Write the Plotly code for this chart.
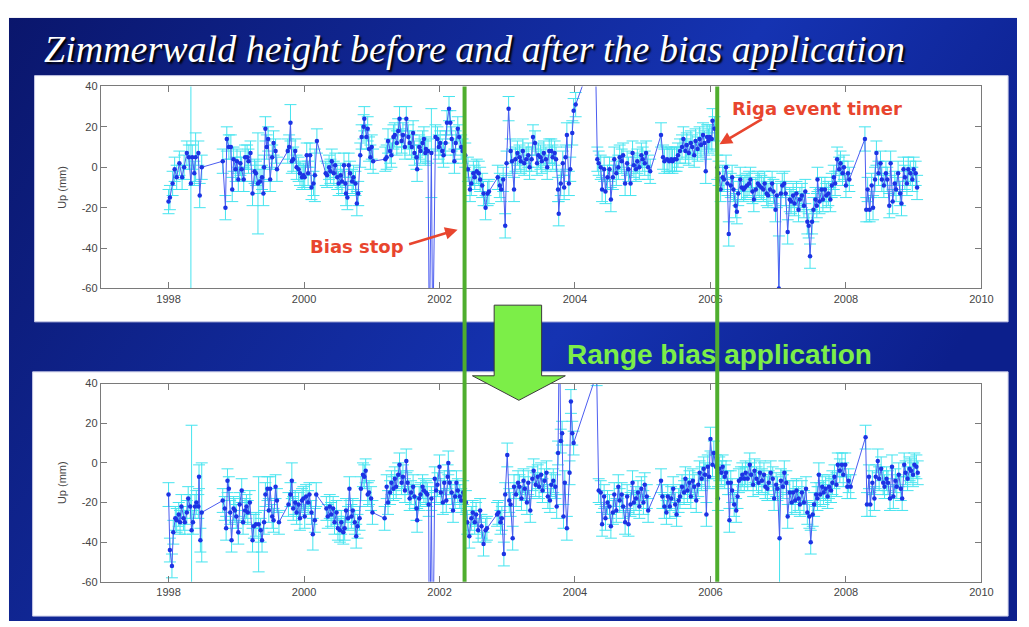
import base64
import plotly.graph_objects as go

W, H = 1029, 627

# ---- data: decimal year, Up (mm) ----
top_dates = [
    1998.00, 1998.02, 1998.06, 1998.09, 1998.12, 1998.16, 1998.20, 1998.23, 1998.27, 1998.30,
    1998.33, 1998.35, 1998.38, 1998.40, 1998.44, 1998.46, 1998.49,
    1998.80, 1998.84, 1998.86, 1998.89, 1998.92, 1998.94, 1998.96, 1998.99,
    1999.01, 1999.03, 1999.06, 1999.08, 1999.11, 1999.13, 1999.16, 1999.18, 1999.21, 1999.24,
    1999.27, 1999.29, 1999.32, 1999.35, 1999.38, 1999.40, 1999.41, 1999.43, 1999.45, 1999.47,
    1999.50, 1999.53, 1999.55, 1999.58, 1999.60,
    1999.76, 1999.78, 1999.80, 1999.82, 1999.84, 1999.87, 1999.89, 1999.92, 1999.94, 1999.97, 1999.99,
    2000.01, 2000.04, 2000.06, 2000.09, 2000.11, 2000.14, 2000.16, 2000.19,
    2000.32, 2000.34, 2000.37, 2000.39, 2000.41, 2000.44, 2000.46, 2000.49, 2000.51, 2000.54,
    2000.56, 2000.59, 2000.61, 2000.62, 2000.64, 2000.66, 2000.68, 2000.71, 2000.73, 2000.76,
    2000.78, 2000.80, 2000.83, 2000.85, 2000.88, 2000.89, 2000.92, 2000.94, 2000.96, 2000.98,
    2001.00, 2001.02,
    2001.20, 2001.22, 2001.24, 2001.27, 2001.29, 2001.32, 2001.34, 2001.37, 2001.39, 2001.41,
    2001.44, 2001.46, 2001.49, 2001.51, 2001.54, 2001.56, 2001.59, 2001.61, 2001.63, 2001.66,
    2001.67, 2001.70, 2001.72, 2001.75, 2001.77, 2001.79, 2001.80, 2001.83, 2001.85, 2001.88,
    2001.90, 2001.94, 2001.97, 2001.99,
    2002.01, 2002.04, 2002.06, 2002.09, 2002.11, 2002.14, 2002.16, 2002.18, 2002.20, 2002.22,
    2002.24, 2002.27, 2002.29, 2002.32, 2002.34, 2002.38,
    2002.42, 2002.45, 2002.47, 2002.50, 2002.52, 2002.55, 2002.58, 2002.60, 2002.63, 2002.65,
    2002.68, 2002.71, 2002.73,
    2002.86, 2002.89, 2002.91, 2002.94, 2002.97, 2002.99,
    2003.02, 2003.05, 2003.07, 2003.10, 2003.12, 2003.15, 2003.18, 2003.20, 2003.23, 2003.25,
    2003.28, 2003.31, 2003.33, 2003.36, 2003.38, 2003.41, 2003.44, 2003.46, 2003.49, 2003.51,
    2003.54, 2003.57, 2003.59, 2003.62, 2003.65, 2003.67, 2003.70, 2003.72, 2003.75, 2003.76,
    2003.79, 2003.82, 2003.84, 2003.86, 2003.88, 2003.91, 2003.93, 2003.96, 2003.98,
    2004.01, 2004.30,
    2004.33, 2004.35, 2004.38, 2004.40, 2004.43, 2004.45, 2004.48, 2004.51, 2004.53, 2004.56,
    2004.58, 2004.61, 2004.64, 2004.66, 2004.69, 2004.71, 2004.74, 2004.77, 2004.79, 2004.82,
    2004.85, 2004.87, 2004.90, 2004.92, 2004.95, 2004.98,
    2005.00, 2005.03, 2005.05, 2005.08, 2005.11,
    2005.27, 2005.30, 2005.32, 2005.36, 2005.39, 2005.42, 2005.44, 2005.47, 2005.50, 2005.52,
    2005.55, 2005.58, 2005.60, 2005.63, 2005.65, 2005.68, 2005.71, 2005.73, 2005.76, 2005.78,
    2005.81, 2005.84, 2005.86, 2005.89, 2005.91, 2005.93, 2005.95, 2005.97, 2005.99,
    2006.02, 2006.03, 2006.06,
    2006.10, 2006.12, 2006.15, 2006.18, 2006.20, 2006.23, 2006.25, 2006.27, 2006.30, 2006.32,
    2006.34, 2006.37, 2006.39, 2006.41, 2006.44, 2006.46, 2006.49, 2006.51, 2006.54, 2006.57,
    2006.59, 2006.62, 2006.64, 2006.67, 2006.70, 2006.72, 2006.75, 2006.78, 2006.80, 2006.83,
    2006.85, 2006.88, 2006.91, 2006.93, 2006.96, 2006.98,
    2007.01, 2007.04, 2007.06, 2007.09, 2007.11, 2007.14, 2007.17, 2007.19, 2007.22, 2007.24,
    2007.27, 2007.30, 2007.32, 2007.35, 2007.38, 2007.40, 2007.43, 2007.45, 2007.47, 2007.50,
    2007.52, 2007.55, 2007.57, 2007.58, 2007.61, 2007.64, 2007.66, 2007.69, 2007.71, 2007.74,
    2007.77, 2007.79, 2007.82, 2007.84, 2007.87, 2007.90, 2007.92, 2007.95, 2007.97,
    2008.00, 2008.03, 2008.05,
    2008.28, 2008.30, 2008.32, 2008.35, 2008.38, 2008.40, 2008.43, 2008.45, 2008.48, 2008.51,
    2008.53, 2008.56, 2008.59, 2008.61, 2008.64, 2008.66, 2008.69, 2008.72, 2008.74, 2008.77,
    2008.80, 2008.82, 2008.85, 2008.87, 2008.90, 2008.92, 2008.95, 2008.98,
    2009.00, 2009.03, 2009.05,
]
top_up = [
    -17, -15, -8, -1, -5, 2, -5, 0, 7, 5,
    -8, 5, -3, 5, 7, -14, 0,
    3, -20, 14, 10, 10, -11, 4, -1,
    3, -6, 2, -1, -6, 5, 5, 3, 7, -13,
    -2, -3, -8, -7, -5, -13, 0, 19, 10, 14,
    -6, 5, 12, 8, -1,
    8, 10, 22, 3, 4, 8, 0, -1, -3, -5, -4,
    -5, 6, -3, 6, -10, -8, -4, 13,
    -3, -4, 0, -2, 3, -3, 1, -5, -8, -4,
    -7, 1, -8, -13, -15, 1, -3, -7, -5, -8,
    -18, -13, 6, 15, 20, 24, 15, 19, 9, 5,
    10, 3,
    4, 5, 13, 8, 6, 15, 16, 12, 18, 24,
    13, 16, 10, 24, 15, 12, 10, 17, 7, 5,
    -1, 10, 8, 12, 14, 7, 9, 8, -90, 7,
    -90, 15, 14, 10,
    12, 8, 6, 12, 22, 29, 22, 14, 8, 3,
    12, 19, 15, 10, 8, 6,
    -1, -11, -8, -3, -5, -2, -3, -6, -9, -13,
    -20, -13, -12,
    -5, -9, -11, -6, -29, 2,
    29, 8, 3, -11, 4, 7, 5, 3, 8, 2,
    4, 6, 0, 4, 15, 12, 2, 6, 5, 3,
    7, 4, 0, 8, 8, 5, 7, 4, -11, -23,
    -8, 2, -10, 5, 16, -8, -1, 17, 28,
    31, 58,
    4, 2, 0, -11, -1, -12, -5, -1, -16, -5,
    4, -3, 0, 5, 3, 6, -8, 2, -1, -8,
    7, 1, -1, 3, 0, 6,
    4, 2, 7, 0, -2,
    16, 5, 3, 4, 3, 4, 3, 4, 4, 6,
    8, 10, 14, 8, 11, 7, 12, 10, 6, 13,
    9, 14, 11, 16, 12, -2, 15, 13, 15,
    14, 23, 19,
    0, -3, -11, -5, -6, 0, -8, -33, -9, -5,
    -11, -19, -22, -13, -6, -10, -11, -10, -9, -8,
    -6, -12, -16, -11, -8, -9, -10, -11, -8, -13,
    -14, -11, -8, -12, -21, -14,
    -60, -13, -9, -8, -13, -32, -16, -17, -14, -18,
    -13, -21, -16, -14, -19, -12, -27, -29, -44, -27,
    -21, -16, -19, -6, -17, -11, -16, -11, -14, -13,
    -16, -9, -5, -8, 4, -1, 2, -3, 0,
    -9, -3, -6,
    14, -21, -11, -21, -9, -20, -6, 7, -3, 2,
    -6, -9, -3, -6, -19, 2, -17, -8, -11, -3,
    -13, -18, -1, -5, -8, -1, -3, -6,
    -1, -3, -10,
]

bottom_dates = [
    1998.00, 1998.02, 1998.05, 1998.07, 1998.10, 1998.12, 1998.15, 1998.17, 1998.19, 1998.22,
    1998.24, 1998.27, 1998.29, 1998.32, 1998.34, 1998.36, 1998.39, 1998.41, 1998.44, 1998.45,
    1998.47, 1998.49,
    1998.80, 1998.83, 1998.85, 1998.87, 1998.89, 1998.91, 1998.93, 1998.96, 1998.98,
    1999.00, 1999.03, 1999.05, 1999.08, 1999.10, 1999.13, 1999.15, 1999.17, 1999.20, 1999.24,
    1999.26, 1999.29, 1999.33, 1999.36, 1999.38, 1999.41, 1999.43, 1999.46, 1999.48, 1999.50,
    1999.53, 1999.55, 1999.58, 1999.60, 1999.63,
    1999.77, 1999.80, 1999.82, 1999.84, 1999.87, 1999.89, 1999.92, 1999.94, 1999.97, 1999.99,
    2000.01, 2000.03, 2000.06, 2000.08, 2000.11, 2000.13, 2000.16, 2000.18,
    2000.33, 2000.35, 2000.38, 2000.40, 2000.43, 2000.45, 2000.48, 2000.50, 2000.53, 2000.55,
    2000.58, 2000.60, 2000.62, 2000.65, 2000.67, 2000.70, 2000.72, 2000.75, 2000.77, 2000.79,
    2000.82, 2000.84, 2000.87, 2000.89, 2000.91, 2000.94, 2000.96, 2000.99,
    2001.01,
    2001.19, 2001.22, 2001.24, 2001.27, 2001.29, 2001.32, 2001.34, 2001.36, 2001.39, 2001.41,
    2001.44, 2001.46, 2001.49, 2001.51, 2001.53, 2001.56, 2001.58, 2001.61, 2001.63, 2001.66,
    2001.67, 2001.70, 2001.72, 2001.75, 2001.77, 2001.80, 2001.82, 2001.84, 2001.85, 2001.88,
    2001.90, 2001.93, 2001.95, 2001.97,
    2002.00, 2002.02, 2002.05, 2002.07, 2002.10, 2002.12, 2002.13, 2002.15, 2002.18, 2002.20,
    2002.23, 2002.25, 2002.27, 2002.30, 2002.32, 2002.35,
    2002.39, 2002.41, 2002.44, 2002.47, 2002.49, 2002.52, 2002.54, 2002.57, 2002.60, 2002.62,
    2002.65, 2002.68, 2002.70,
    2002.85, 2002.87, 2002.90, 2002.92, 2002.95, 2002.97,
    2003.00, 2003.03, 2003.05, 2003.08, 2003.10, 2003.13, 2003.16, 2003.18, 2003.21, 2003.24,
    2003.26, 2003.29, 2003.31, 2003.34, 2003.37, 2003.39, 2003.42, 2003.45, 2003.47, 2003.50,
    2003.52, 2003.55, 2003.58, 2003.60, 2003.63, 2003.65, 2003.68, 2003.71, 2003.73, 2003.75,
    2003.77, 2003.79, 2003.81, 2003.83, 2003.85, 2003.88, 2003.92, 2003.94, 2003.96, 2003.98,
    2004.32,
    2004.35, 2004.38, 2004.40, 2004.43, 2004.45, 2004.48, 2004.51, 2004.53, 2004.56, 2004.58,
    2004.61, 2004.64, 2004.66, 2004.69, 2004.71, 2004.74, 2004.77, 2004.79, 2004.82, 2004.85,
    2004.87, 2004.90, 2004.93, 2004.95, 2004.98,
    2005.01, 2005.03, 2005.06, 2005.08,
    2005.27, 2005.29, 2005.32, 2005.35, 2005.37, 2005.40, 2005.42, 2005.45, 2005.48, 2005.50,
    2005.53, 2005.55, 2005.58, 2005.61, 2005.63, 2005.66, 2005.69, 2005.71, 2005.74, 2005.76,
    2005.79, 2005.82, 2005.84, 2005.87, 2005.90, 2005.92, 2005.94, 2005.96, 2005.98,
    2006.00, 2006.03, 2006.05, 2006.08, 2006.11,
    2006.13, 2006.16, 2006.18, 2006.21, 2006.23, 2006.26, 2006.28, 2006.30, 2006.32, 2006.35,
    2006.38, 2006.40, 2006.42, 2006.45, 2006.47, 2006.50, 2006.52, 2006.55, 2006.58, 2006.60,
    2006.63, 2006.65, 2006.68, 2006.71, 2006.73, 2006.76, 2006.79, 2006.81, 2006.84, 2006.86,
    2006.89, 2006.92, 2006.94, 2006.97, 2006.99,
    2007.02, 2007.04, 2007.07, 2007.09, 2007.12, 2007.14, 2007.17, 2007.20, 2007.22, 2007.25,
    2007.27, 2007.30, 2007.32, 2007.35, 2007.38, 2007.41, 2007.43, 2007.46, 2007.48, 2007.51,
    2007.53, 2007.56, 2007.58, 2007.60, 2007.62, 2007.65, 2007.67, 2007.70, 2007.73, 2007.75,
    2007.78, 2007.80, 2007.83, 2007.86, 2007.88, 2007.91, 2007.94, 2007.96, 2007.99,
    2008.02, 2008.04, 2008.07,
    2008.29, 2008.31, 2008.34, 2008.36, 2008.39, 2008.42, 2008.44, 2008.47, 2008.49, 2008.52,
    2008.55, 2008.57, 2008.60, 2008.62, 2008.65, 2008.68, 2008.70, 2008.73, 2008.75, 2008.78,
    2008.81, 2008.83, 2008.86, 2008.88, 2008.91, 2008.94, 2008.96, 2008.99,
    2009.01, 2009.04, 2009.06,
]
bottom_up = [
    -16, -44, -52, -35, -28, -29, -26, -30, -22, -28,
    -30, -25, -18, -22, -34, -30, -22, -20, -22, -7,
    -39, -25,
    -19, -23, -33, -9, -13, -25, -39, -23, -24,
    -27, -35, -21, -14, -30, -24, -22, -25, -20, -39,
    -32, -31, -31, -34, -39, -30, -16, -13, -24, -13,
    -27, -29, -12, -19, -30,
    -21, -16, -9, -23, -20, -25, -21, -28, -19, -18,
    -27, -17, -20, -16, -25, -36, -29, -16,
    -23, -27, -22, -26, -23, -30, -25, -33, -34, -30,
    -35, -33, -24, -28, -13, -27, -24, -30, -37, -32,
    -28, -13, -6, -7, -4, -16, -15, -18,
    -25,
    -28, -12, -20, -15, -10, -13, -8, -12, -6, -1,
    -10, -7, -14, 1, -10, -18, -15, -12, -17, -23,
    -29, -18, -16, -12, -14, -15, -16, -21, -110, -18,
    -110, -8, -14, -11,
    -2, -15, -20, -10, -19, -7, 0, -10, -15, -24,
    -17, -10, -14, -17, -19, -15,
    -20, -30, -37, -28, -25, -30, -26, -34, -24, -32,
    -41, -34, -33,
    -26, -25, -30, -28, -46, -16,
    4, -19, -21, -38, -12, -16, -10, -12, -18, -9,
    -13, -20, -10, -24, -8, -4, -11, -7, -12, -6,
    -14, -9, -5, -17, -19, -11, -9, -12, -22, 5,
    70, 11, 15, -27, -10, -33, -5, 31, 15, 10,
    45,
    -14, -15, -31, -17, -28, -20, -22, -32, -25, -16,
    -24, -12, -19, -16, -22, -30, -17, -31, -21, -10,
    -20, -18, -15, -22, -13,
    -20, -11, -17, -24,
    -9, -17, -22, -25, -17, -22, -18, -13, -21, -26,
    -19, -17, -12, -15, -8, -14, -10, -17, -9, -12,
    -19, -11, -5, -8, -3, -6, -26, -2, -7,
    12, -1, 5, -2, -18,
    -3, -5, -2, -7, -5, -10, -29, -10, -14, -21,
    -24, -17, -9, -8, -6, -8, -5, -8, -1, -6,
    -11, -4, -8, -10, -5, -9, -6, -12, -13, -10,
    -5, -8, -18, -11, -13,
    -38, -9, -12, -5, -10, -27, -15, -20, -15, -19,
    -14, -18, -21, -15, -20, -13, -25, -27, -40, -26,
    -21, -16, -18, -6, -16, -12, -15, -13, -17, -12,
    -14, -10, -7, -11, -1, -4, -1, -6, -1,
    -12, -9, -12,
    13, -21, -7, -21, -10, -18, -7, 1, -8, -3,
    -10, -12, -8, -10, -18, -2, -17, -9, -12, -6,
    -13, -18, -1, -5, -8, -3, -4, -6,
    -1, -2, -5,
]

# formal errors (mm): most points share the typical value, a few are larger
typical_err = 6
top_large_err = {1998.33: 70, 1998.40: 12, 1999.32: 25, 1999.80: 9, 2000.16: 13, 2001.88: 22, 2007.01: 26}
bottom_large_err = {1998.34: 53, 1998.49: 25, 1999.33: 24, 1999.82: 9, 2000.13: 8, 2007.02: 25}

event_dates = [2002.37, 2006.10]   # bias stop, Riga event timer

x_ticks = [1998, 2000, 2002, 2004, 2006, 2008, 2010]
y_ticks = [-60, -40, -20, 0, 20, 40]
y_tick_labels = ["-60", "-40", "-20", "0", "20", "40"]

assert len(top_dates) == len(top_up)
assert len(bottom_dates) == len(bottom_up)

top_err = [top_large_err.get(d, typical_err) for d in top_dates]
bottom_err = [bottom_large_err.get(d, typical_err) for d in bottom_dates]


def px(x):
    return x / W


def py(y):
    return 1 - y / H


fig = go.Figure()

for xa, ya, d, v, e in [("x", "y", top_dates, top_up, top_err),
                        ("x2", "y2", bottom_dates, bottom_up, bottom_err)]:
    fig.add_trace(go.Scatter(
        x=d, y=v, xaxis=xa, yaxis=ya, mode="lines+markers",
        line=dict(color="#4b5cf0", width=1),
        marker=dict(color="#1c33e4", size=4.5),
        error_y=dict(type="data", array=e, color="#45e4ef", thickness=1, width=6),
        showlegend=False, hoverinfo="skip",
    ))

axis_common = dict(
    showline=True, linecolor="#7a7a7a", linewidth=1, mirror="ticks",
    ticks="inside", ticklen=6, tickcolor="#7a7a7a", showgrid=False, zeroline=False,
    tickfont=dict(family="Liberation Sans", size=11, color="#444444"),
)
ytitle = dict(text="Up (mm)", standoff=12,
              font=dict(family="Liberation Sans", size=11, color="#444444"))
xdom = [px(102), px(993)]
fig.update_layout(
    xaxis=dict(axis_common, domain=xdom, range=[1997, 2010], tickvals=x_ticks, anchor="y"),
    yaxis=dict(axis_common, domain=[py(288), py(82)], range=[-60, 40], tickvals=y_ticks,
               ticktext=y_tick_labels, anchor="x", title=ytitle),
    xaxis2=dict(axis_common, domain=xdom, range=[1997, 2010], tickvals=x_ticks, anchor="y2"),
    yaxis2=dict(axis_common, domain=[py(587), py(385)], range=[-60, 40], tickvals=y_ticks,
                ticktext=y_tick_labels, anchor="x2", title=ytitle),
)

# slide background: blue gradient
svg = ("<svg xmlns='http://www.w3.org/2000/svg' width='1020' height='615'>"
       "<defs><linearGradient id='g' x1='0' y1='0' x2='1' y2='0.4'>"
       "<stop offset='0' stop-color='#0a166c'/><stop offset='0.65' stop-color='#1533b2'/>"
       "<stop offset='1' stop-color='#0c1f8c'/></linearGradient></defs>"
       "<rect width='1020' height='615' fill='url(#g)'/></svg>")
bg_src = "data:image/svg+xml;base64," + base64.b64encode(svg.encode()).decode()
fig.add_layout_image(dict(source=bg_src, xref="paper", yref="paper", x=px(9), y=py(12),
                          sizex=px(1020), sizey=615 / H, sizing="stretch",
                          xanchor="left", yanchor="top", layer="below"))

# white panels behind the two plots
for x0, y0, x1, y1 in [(35, 71, 1020, 322), (33, 373, 1020, 622)]:
    fig.add_shape(type="rect", xref="paper", yref="paper", x0=px(x0), x1=px(x1),
                  y0=py(y1), y1=py(y0), fillcolor="white", line=dict(color="#c9cbe8", width=1),
                  layer="below")

# green event lines across both plots
for d in event_dates:
    fig.add_shape(type="line", xref="x", yref="paper", x0=d, x1=d, y0=py(587), y1=py(82),
                  line=dict(color="#4fae2e", width=4), layer="above")

# big green arrow
pts = [(500, 305), (548, 305), (548, 377), (572, 377), (525, 402), (478, 377), (500, 377)]
path = "M " + " L ".join(f"{px(a):.5f},{py(b):.5f}" for a, b in pts) + " Z"
fig.add_shape(type="path", xref="paper", yref="paper", path=path,
              fillcolor="#7cee48", line=dict(color="#3a3a3a", width=1), layer="above")

red = "#e8452e"
fig.add_annotation(text="<i>Zimmerwald height before and after the bias application</i>",
                   xref="paper", yref="paper", x=px(42), y=py(44), xanchor="left", yanchor="middle",
                   showarrow=False,
                   font=dict(family="Liberation Serif", size=38, color="white",
                             shadow="2px 2px 2px #000000"))
fig.add_annotation(text="<b>Bias stop</b>", xref="paper", yref="paper", x=px(361), y=py(245),
                   xanchor="center", yanchor="middle",
                   showarrow=False, font=dict(family="DejaVu Sans", size=18, color=red))
fig.add_annotation(text="<b>Riga event timer</b>", xref="paper", yref="paper", x=px(827), y=py(104),
                   xanchor="center", yanchor="middle",
                   showarrow=False, font=dict(family="DejaVu Sans", size=18, color=red))
fig.add_annotation(text="<b>Range bias application</b>", xref="paper", yref="paper", x=px(572),
                   y=py(355), xanchor="left", yanchor="middle", showarrow=False,
                   font=dict(family="Liberation Sans", size=28, color="#7cee48"))
# red arrows
for hx, hy, tx, ty in [(463, 228, 413, 243), (728, 141, 772, 115)]:
    fig.add_annotation(text="", xref="paper", yref="paper", x=px(hx), y=py(hy),
                       ax=tx - hx, ay=ty - hy, showarrow=True, arrowhead=2, arrowsize=1,
                       arrowwidth=2.5, arrowcolor=red)

fig.update_layout(width=W, height=H, margin=dict(l=0, r=0, t=0, b=0),
                  paper_bgcolor="white", plot_bgcolor="rgba(0,0,0,0)")

fig.write_html(
    "out.html",
    config={"displayModeBar": False},
    post_script=("document.body.style.margin='0px';"
                 "document.documentElement.style.overflow='hidden';"
                 "document.body.style.overflow='hidden';"),
)
